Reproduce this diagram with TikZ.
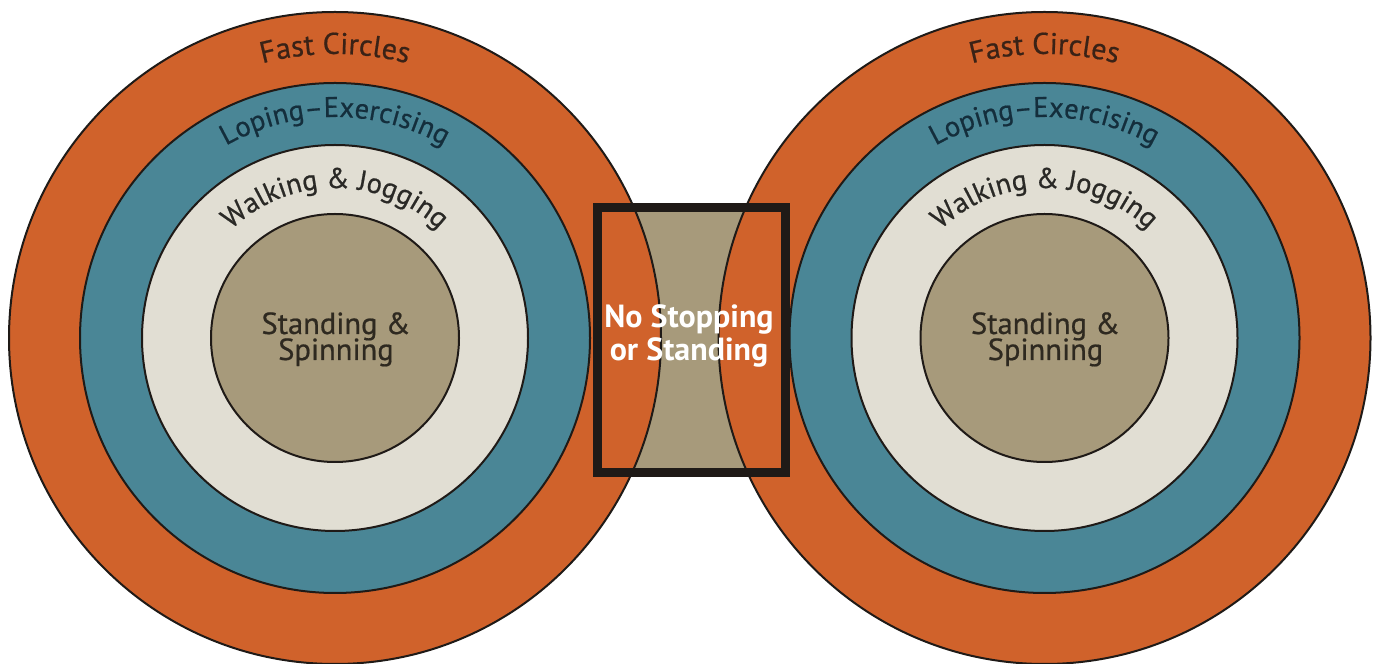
\documentclass[tikz,border=0pt]{standalone}
\usepackage{fontspec}
\setmainfont{PT Sans}
\newfontfamily\lblfont[FakeBold=0.6]{PT Sans}
\newfontfamily\stopfont{PT Sans}
\usetikzlibrary{decorations.text,calc}
\definecolor{orng}{HTML}{D0622B}
\definecolor{tealc}{HTML}{4A8696}
\definecolor{creamc}{HTML}{E1DED3}
\definecolor{tanc}{HTML}{A79A7B}
\definecolor{edgec}{HTML}{1F1A17}
\definecolor{fastc}{HTML}{3A2216}
\definecolor{lopec}{HTML}{142E3C}
\definecolor{walkc}{HTML}{2A2926}
\definecolor{standc}{HTML}{2E2920}
\begin{document}
\begin{tikzpicture}[x=1pt,y=1pt,
  ring/.style={draw=edgec, line width=2pt},
  arctext/.style n args={3}{decorate, decoration={text along path, text align=center, text color=#2, text={|\lblfont\fontsize{#3}{#3}\selectfont|#1}}},
  centertext/.style={anchor=base, text=standc, font=\lblfont\fontsize{30.5}{30.5}\selectfont, inner sep=0pt},
  stoptext/.style={anchor=base, text=white, font=\stopfont\bfseries\fontsize{32}{32}\selectfont, inner sep=0pt}]
\useasboundingbox (0,0) rectangle (1374,664);
\fill[white] (0,0) rectangle (1374,664);
\coordinate (L) at (335,326);
\coordinate (R) at (1044.5,326);
% tan fill of the middle box
\fill[tanc] (597,191.5) rectangle (785,456.5);
% rings
\foreach \c in {L,R}{
  \draw[ring, fill=orng] (\c) circle[radius=326];
  \draw[ring, fill=tealc] (\c) circle[radius=255];
  \draw[ring, fill=creamc] (\c) circle[radius=193];
  \draw[ring, fill=tanc] (\c) circle[radius=124];
  \path[arctext={Fast Circles}{fastc}{30}] ($(\c)+(160:284)$) arc[start angle=160, end angle=20, radius=284];
  \path[arctext={Loping–Exercising}{lopec}{28.5}] ($(\c)+(170:221)$) arc[start angle=170, end angle=10, radius=221];
  \path[arctext={Walking {\&} Jogging}{walkc}{28.5}] ($(\c)+(175:150)$) arc[start angle=175, end angle=5, radius=150];
}
\node[centertext] (sl1) at (336,330) {Standing \&};
\node[centertext] (sl2) at (336,304) {Spinning};
\node[centertext] (sr1) at (1045.5,330) {Standing \&};
\node[centertext] (sr2) at (1045.5,304) {Spinning};
% middle box
\node[draw=edgec, line width=9pt, minimum width=188pt, minimum height=265pt, inner sep=0pt] (box) at (691,324) {};
\node[stoptext] (st1) at (689,336) {No Stopping};
\node[stoptext] (st2) at (689,303) {or Standing};
\end{tikzpicture}
\end{document}
